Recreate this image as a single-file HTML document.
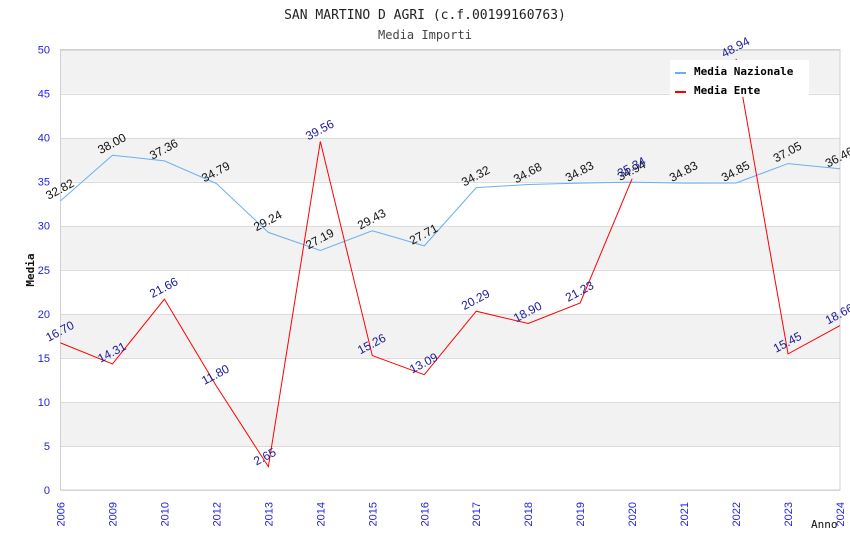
<!DOCTYPE html>
<html><head><meta charset="utf-8"><style>
body{margin:0;background:#fff;}
svg{display:block;}
</style></head><body>
<svg id="chart" width="850" height="550" font-family="Liberation Sans, DejaVu Sans, sans-serif">
<text x="425" y="19" text-anchor="middle" font-family="DejaVu Sans Mono, Liberation Mono, monospace" font-size="13" fill="#222">SAN MARTINO D AGRI (c.f.00199160763)</text>
<text x="425" y="39" text-anchor="middle" font-family="DejaVu Sans Mono, Liberation Mono, monospace" font-size="12" fill="#444">Media Importi</text>
<g id="bands"></g>
<g id="grid"></g>
<rect x="60.5" y="49.5" width="779.5" height="440.5" fill="none" stroke="#d0d0d0"/>
<g id="yticks"></g>
<g id="xticks"></g>
<text transform="translate(34,270) rotate(-90)" text-anchor="middle" font-family="DejaVu Sans Mono, Liberation Mono, monospace" font-size="11" font-weight="bold" fill="#111">Media</text>
<text x="811" y="528" font-family="DejaVu Sans Mono, Liberation Mono, monospace" font-size="11" fill="#111">Anno</text>
<g id="series"></g>
<g>
<rect x="670" y="60" width="139" height="37" fill="#fff"/>
<g>
<rect x="675" y="72" width="11" height="2" fill="#6aaeef"/>
<text x="694" y="75" font-family="DejaVu Sans Mono, Liberation Mono, monospace" font-size="11" font-weight="bold" fill="#000">Media Nazionale</text></g>
<g>
<rect x="675" y="91" width="11" height="2" fill="#ff0000"/>
<text x="694" y="94" font-family="DejaVu Sans Mono, Liberation Mono, monospace" font-size="11" font-weight="bold" fill="#000">Media Ente</text></g>
</g>
</svg>
<script>
const categories=["2006","2009","2010","2012","2013","2014","2015","2016","2017","2018","2019","2020","2021","2022","2023","2024"];
const nazionale=[32.82,38.00,37.36,34.79,29.24,27.19,29.43,27.71,34.32,34.68,34.83,34.94,34.83,34.85,37.05,36.46];
const ente=[16.70,14.31,21.66,11.80,2.65,39.56,15.26,13.09,20.29,18.90,21.23,35.34,null,48.94,15.45,18.66];
const yTicks=[0,5,10,15,20,25,30,35,40,45,50];
const NS="http://www.w3.org/2000/svg";
const X0=60.5,X1=840,Y0=490,Y1=49.5,YMAX=50;
function xs(i){return X0+(X1-X0)*i/(categories.length-1);}
function ys(v){return Y0-(Y0-Y1)*v/YMAX;}
function mk(t,a,p){const e=document.createElementNS(NS,t);for(const k in a)e.setAttribute(k,a[k]);p.appendChild(e);return e;}
const bands=document.getElementById('bands'),grid=document.getElementById('grid'),yt=document.getElementById('yticks'),xt=document.getElementById('xticks'),ser=document.getElementById('series');
for(let i=0;i<yTicks.length-1;i++){
  if(i%2===1){const r=mk('rect',{x:X0,y:ys(yTicks[i+1]),width:X1-X0,height:ys(yTicks[i])-ys(yTicks[i+1]),fill:'#f2f2f2'},bands);
  
  }
}
yTicks.forEach(v=>{
  const l=mk('line',{x1:X0,x2:X1,y1:Math.round(ys(v))+0.5,y2:Math.round(ys(v))+0.5,stroke:'#dcdcdc'},grid);
  
  
  const t=mk('text',{x:50,y:ys(v)+4,'text-anchor':'end','font-size':11,fill:'#2222dd'},yt);t.textContent=v;
  
  
});
categories.forEach((c,i)=>{
  const t=mk('text',{transform:`translate(${xs(i)+4},502) rotate(-90)`,'text-anchor':'end','font-size':11,fill:'#2222dd'},xt);t.textContent=c;
  
  
});
function draw(data,color,labelColor,name){
  let segs=[],cur=[];
  data.forEach((v,i)=>{if(v===null){if(cur.length)segs.push(cur);cur=[];}else cur.push([xs(i),ys(v)]);});
  if(cur.length)segs.push(cur);
  segs.forEach(s=>{const p=mk('polyline',{points:s.map(q=>q.join(',')).join(' '),fill:'none',stroke:color,'stroke-width':1},ser);
    
    });
  data.forEach((v,i)=>{if(v===null)return;
    const t=mk('text',{transform:`translate(${xs(i)-12},${ys(v)-1}) rotate(-28)`,'font-size':12,fill:labelColor},ser);
    t.textContent=v.toFixed(2);
    
    });
}
draw(nazionale,'#6aaeef','#111','media-nazionale');
draw(ente,'#ff0000','#1a1a99','media-ente');
</script>
</body></html>
